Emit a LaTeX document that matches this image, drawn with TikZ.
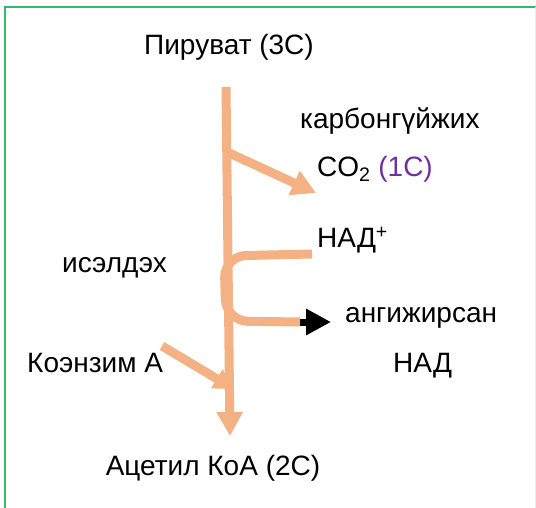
\documentclass[tikz,border=0pt]{standalone}
\usepackage{fontspec}
\setmainfont{Liberation Sans}
\usetikzlibrary{arrows.meta}
\definecolor{peach}{HTML}{F4B183}
\definecolor{frame}{HTML}{2EBD6B}
\definecolor{violet}{HTML}{7030A0}
\tikzset{
  label/.style={inner sep=0pt, font=\fontsize{28}{32}\selectfont, text=black},
  flow/.style={draw=peach, line width=9pt},
  flowhead/.style={-{Triangle[length=24pt,width=25pt]}},
}
\begin{document}
\begin{tikzpicture}[x=1pt,y=-1pt]
\useasboundingbox (0,0) rectangle (536,508);
% frame
\draw[frame, line width=2pt] (5,508) -- (5,7) -- (536,7);
\draw[black!8, line width=1pt] (535,7) -- (535,508);

% labels
\node[label] (pyr) at (229,47) {Пируват (3С)};
\node[label, anchor=west] (carb) at (300,121) {карбонгүйжих};
\node[label, anchor=west] (co2) at (317,169) {CO\textsubscript{2} \textcolor{violet}{(1С)}};
\node[label, anchor=west] (nadp) at (317,240) {НАД\textsuperscript{+}};
\node[label, anchor=west] (ox) at (62,268) {исэлдэх};
\node[label, anchor=west] (red) at (345,318) {ангижирсан};
\node[label, anchor=west] (nad) at (393,366) {НАД};
\node[label, anchor=west] (coa) at (27,363) {Коэнзим А};
\node[label] (acoa) at (213,468) {Ацетил КоА (2С)};

% anchor points of the flow lines
\coordinate (top) at (226,87);
\coordinate (bot) at (230,436);
\coordinate (split) at (227,152);
\coordinate (co2tip) at (316,193);
\coordinate (nadin) at (312,254);
\coordinate (nadout) at (300,322);
\coordinate (nadtip) at (331,322);
\coordinate (coain) at (162,346);
\coordinate (coatip) at (234,389);

% main pathway
\draw[flow, flowhead, fill=peach] (top) -- (bot);
% decarboxylation branch
\draw[flow, flowhead] (split) -- (co2tip);
% oxidation loop
\draw[flow, rounded corners=22pt] (nadin) -- (224,256) -- (226,321) -- (nadout);
\draw[black, line width=7pt, -{Triangle[length=25pt,width=25pt]}] (nadout) -- (nadtip);
% coenzyme A input
\draw[flow, -{Triangle[length=20pt,width=21pt]}] (coain) -- (coatip);
\end{tikzpicture}
\end{document}
